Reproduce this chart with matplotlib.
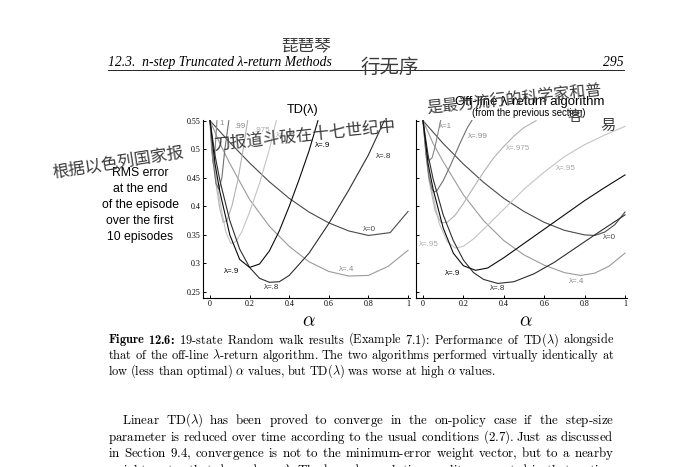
import matplotlib
matplotlib.use("Agg")
import matplotlib.pyplot as plt
from matplotlib.ticker import FixedLocator, FixedFormatter

plt.rcParams['mathtext.fontset'] = 'cm'

# ---------------- data ----------------
x_ticks = [0, 0.2, 0.4, 0.6, 0.8, 1.0]
x_tick_labels = ["0", "0.2", "0.4", "0.6", "0.8", "1"]
y_ticks = [0.25, 0.30, 0.35, 0.40, 0.45, 0.50, 0.55]
y_tick_labels = ["0.25", "0.3", "0.35", "0.4", "0.45", "0.5", "0.55"]

# TD(lambda)
td_a_0 = [0, 0.1, 0.2, 0.3, 0.4, 0.5, 0.6, 0.7, 0.8, 0.91, 1.0]
td_e_0 = [0.55, 0.512, 0.476, 0.443, 0.414, 0.39, 0.371, 0.357, 0.349, 0.354, 0.391]
td_a_4 = [0, 0.05, 0.1, 0.2, 0.3, 0.4, 0.5, 0.6, 0.7, 0.8, 0.9, 1.0]
td_e_4 = [0.55, 0.51, 0.475, 0.412, 0.365, 0.33, 0.303, 0.286, 0.278, 0.279, 0.295, 0.323]
td_a_8 = [0, 0.025, 0.05, 0.1, 0.15, 0.2, 0.25, 0.3, 0.35, 0.4, 0.5, 0.6, 0.7, 0.8, 0.88]
td_e_8 = [0.55, 0.49, 0.445, 0.375, 0.325, 0.293, 0.274, 0.267, 0.268, 0.279, 0.318, 0.37, 0.428, 0.49, 0.55]
td_a_9 = [0, 0.025, 0.05, 0.1, 0.15, 0.2, 0.25, 0.3, 0.35, 0.4, 0.45, 0.5, 0.545]
td_e_9 = [0.55, 0.475, 0.425, 0.35, 0.307, 0.293, 0.299, 0.322, 0.357, 0.4, 0.447, 0.497, 0.55]
td_a_95 = [0, 0.02, 0.04, 0.06, 0.08, 0.105, 0.13, 0.16, 0.2, 0.25, 0.3, 0.335]
td_e_95 = [0.55, 0.48, 0.43, 0.39, 0.355, 0.335, 0.338, 0.355, 0.39, 0.44, 0.5, 0.55]
td_a_975 = [0, 0.015, 0.03, 0.05, 0.067, 0.085, 0.11, 0.14, 0.17, 0.19]
td_e_975 = [0.55, 0.49, 0.44, 0.395, 0.372, 0.375, 0.4, 0.445, 0.505, 0.55]
td_a_99 = [0, 0.015, 0.03, 0.045, 0.06, 0.075, 0.095]
td_e_99 = [0.55, 0.48, 0.44, 0.43, 0.45, 0.5, 0.55]
td_a_1 = [0, 0.008, 0.016, 0.024, 0.035]
td_e_1 = [0.55, 0.5, 0.475, 0.49, 0.55]

# Off-line lambda-return algorithm
ol_a_0 = [0, 0.1, 0.2, 0.3, 0.4, 0.5, 0.6, 0.7, 0.8, 0.85, 0.9, 0.95, 1.0]
ol_e_0 = [0.55, 0.51, 0.474, 0.442, 0.414, 0.391, 0.372, 0.358, 0.35, 0.349, 0.355, 0.368, 0.39]
ol_a_4 = [0, 0.05, 0.1, 0.2, 0.3, 0.4, 0.5, 0.6, 0.7, 0.78, 0.85, 0.92, 1.0]
ol_e_4 = [0.55, 0.51, 0.478, 0.42, 0.375, 0.34, 0.315, 0.297, 0.284, 0.279, 0.283, 0.295, 0.318]
ol_a_8 = [0, 0.025, 0.05, 0.1, 0.15, 0.2, 0.25, 0.3, 0.37, 0.45, 0.55, 0.65, 0.75, 0.85, 1.0]
ol_e_8 = [0.55, 0.49, 0.448, 0.385, 0.34, 0.306, 0.284, 0.272, 0.265, 0.268, 0.282, 0.302, 0.326, 0.35, 0.385]
ol_a_9 = [0, 0.025, 0.05, 0.1, 0.15, 0.2, 0.26, 0.32, 0.4, 0.5, 0.6, 0.7, 0.8, 0.9, 1.0]
ol_e_9 = [0.55, 0.475, 0.43, 0.362, 0.318, 0.296, 0.288, 0.292, 0.31, 0.335, 0.36, 0.385, 0.41, 0.433, 0.455]
ol_a_95 = [0, 0.02, 0.04, 0.08, 0.12, 0.16, 0.2, 0.25, 0.3, 0.4, 0.5, 0.6, 0.7, 0.8, 0.9, 1.0]
ol_e_95 = [0.55, 0.48, 0.435, 0.37, 0.338, 0.327, 0.33, 0.343, 0.36, 0.395, 0.43, 0.46, 0.487, 0.508, 0.525, 0.54]
ol_a_975 = [0, 0.015, 0.03, 0.06, 0.09, 0.12, 0.16, 0.2, 0.25, 0.3, 0.35, 0.4, 0.45, 0.5, 0.56]
ol_e_975 = [0.55, 0.49, 0.445, 0.392, 0.371, 0.372, 0.385, 0.405, 0.433, 0.46, 0.485, 0.505, 0.523, 0.538, 0.55]
ol_a_99 = [0, 0.015, 0.03, 0.045, 0.055, 0.07, 0.1, 0.14, 0.18, 0.22, 0.25]
ol_e_99 = [0.55, 0.49, 0.45, 0.43, 0.425, 0.428, 0.445, 0.475, 0.508, 0.538, 0.555]
ol_a_1 = [0, 0.01, 0.02, 0.03, 0.045, 0.06, 0.075, 0.09]
ol_e_1 = [0.55, 0.515, 0.49, 0.48, 0.485, 0.505, 0.53, 0.555]

# curve labels: (text, alpha, error) in data coordinates
td_labels = [("1", 0.045, 0.545), (".99", 0.125, 0.54), (".975", 0.225, 0.532), ("λ=.95", 0.335, 0.524),
             ("λ=.9", 0.53, 0.507), ("λ=.8", 0.84, 0.488), ("λ=0", 0.77, 0.36), ("λ=.4", 0.65, 0.289),
             ("λ=.9", 0.07, 0.286), ("λ=.8", 0.27, 0.258)]
ol_labels = [("λ=1", 0.08, 0.539), ("λ=.99", 0.22, 0.523), ("λ=.975", 0.41, 0.502), ("λ=.95", 0.66, 0.467),
             ("λ=0", 0.89, 0.345), ("λ=.4", 0.72, 0.268), ("λ=.8", 0.33, 0.256), ("λ=.9", 0.11, 0.283),
             ("λ=.95", -0.02, 0.333)]

# ---------------- layout ----------------
W, H = 680, 467
fig = plt.figure(figsize=(6.8, 4.67), dpi=100)
renderer = fig.canvas.get_renderer()


def fx(px):
    return px / W


def fy(py):
    return 1 - py / H


def fit_width(t, target):
    w = t.get_window_extent(renderer).width
    t.set_fontsize(t.get_fontsize() * target / w)
    return t


col = {"0": "#4a4a4a", "4": "#9a9a9a", "8": "#2e2e2e", "9": "#0a0a0a",
       "95": "#c4c4c4", "975": "#b2b2b2", "99": "#707070", "1": "#858585"}
lab_col = {"λ=0": "#4a4a4a", "λ=.4": "#8a8a8a", "λ=.8": "#2e2e2e", "λ=.9": "#000000",
           "λ=.95": "#a8a8a8", ".975": "#a8a8a8", "λ=.975": "#a8a8a8", ".99": "#8a8a8a",
           "λ=.99": "#8a8a8a", "1": "#8a8a8a", "λ=1": "#8a8a8a"}

ax1 = fig.add_axes([fx(203), fy(298), fx(410) - fx(203), fy(120) - fy(298)])
ax2 = fig.add_axes([fx(416), fy(298), fx(627) - fx(416), fy(120) - fy(298)])

td_series = [(td_a_0, td_e_0, "0"), (td_a_4, td_e_4, "4"), (td_a_95, td_e_95, "95"),
             (td_a_975, td_e_975, "975"), (td_a_99, td_e_99, "99"), (td_a_1, td_e_1, "1"),
             (td_a_8, td_e_8, "8"), (td_a_9, td_e_9, "9")]
ol_series = [(ol_a_0, ol_e_0, "0"), (ol_a_4, ol_e_4, "4"), (ol_a_95, ol_e_95, "95"),
             (ol_a_975, ol_e_975, "975"), (ol_a_99, ol_e_99, "99"), (ol_a_1, ol_e_1, "1"),
             (ol_a_8, ol_e_8, "8"), (ol_a_9, ol_e_9, "9")]

for ax, series, labels, xlim in [(ax1, td_series, td_labels, (-0.0354, 1.0101)),
                                 (ax2, ol_series, ol_labels, (-0.0347, 1.0099))]:
    for a, e, k in series:
        ax.plot(a, e, color=col[k], lw=0.8, solid_joinstyle='round')
    for txt, a, e in labels:
        ax.text(a, e, txt, fontsize=5.8, family="Liberation Sans", color=lab_col[txt],
                ha="left", va="center")
    ax.set_xlim(*xlim)
    ax.set_ylim(0.2395, 0.5512)
    ax.spines["top"].set_visible(False)
    ax.spines["right"].set_visible(False)
    for s in ("left", "bottom"):
        ax.spines[s].set_linewidth(0.8)
    ax.xaxis.set_major_locator(FixedLocator(x_ticks))
    ax.xaxis.set_major_formatter(FixedFormatter(x_tick_labels))
    ax.yaxis.set_major_locator(FixedLocator(y_ticks))
    ax.yaxis.set_major_formatter(FixedFormatter(y_tick_labels))
    ax.tick_params(direction="in", length=2.5, width=0.7, pad=1.5, labelsize=5.8)
    for lbl in ax.get_xticklabels() + ax.get_yticklabels():
        lbl.set_family("Liberation Serif")
    ax.patch.set_alpha(0)
ax2.tick_params(labelleft=False)

# axis labels alpha
fig.text(fx(309), fy(321), r"$\alpha$", fontsize=14, ha="center", va="center")
fig.text(fx(526), fy(321), r"$\alpha$", fontsize=14, ha="center", va="center")

# titles
t = fig.text(fx(302.5), fy(110), "TD(λ)", family="Liberation Sans", fontsize=9, ha="center", va="center")
fit_width(t, 31.5)
t = fig.text(fx(530), fy(102), "Off-line λ-return algorithm", family="Liberation Sans", fontsize=9,
             ha="center", va="center")
fit_width(t, 149)
t = fig.text(fx(529), fy(113.5), "(from the previous section)", family="Liberation Sans", fontsize=6,
             ha="center", va="center")
fit_width(t, 116)

# y label
ylab_lines = ["RMS error", "at the end", "of the episode", "over the first", "10 episodes"]
ylab_texts = []
for i, s in enumerate(ylab_lines):
    ylab_texts.append(fig.text(fx(140), fy(172.7 + 16 * i), s, family="Liberation Sans", fontsize=9,
                               ha="center", va="center"))
ref_w = ylab_texts[2].get_window_extent(renderer).width
for tt in ylab_texts:
    tt.set_fontsize(9 * 77.3 / ref_w)

# running header
hdr = fig.text(fx(108), fy(66), "12.3.  n-step Truncated λ-return Methods", family="Liberation Serif",
               style="italic", fontsize=9, ha="left", va="baseline")
fit_width(hdr, 224)
fig.text(fx(624), fy(66), "295", family="Liberation Serif", style="italic", fontsize=hdr.get_fontsize(),
         ha="right", va="baseline")
fig.add_artist(plt.Line2D([fx(108), fx(624)], [fy(70), fy(70)], color="black", lw=0.6))


# ---------------- justified text ----------------
EMPTY = r"$\hspace{0}$"


def as_math(w):
    # force the mathtext layout engine so that measured widths equal drawn widths
    return w if "$" in w else w + EMPTY


def pad_of(fam, size):
    t = fig.text(0, 0, EMPTY, family=fam, fontsize=size)
    p = t.get_window_extent(renderer).width
    t.remove()
    return p


def adv(o):
    return o.get_window_extent(renderer).width - pad_of(o.get_family(), o.get_fontsize())


def text_block(lines, x0, x1, baselines, ref_line, first_indent=0, last_justified=False,
               bold_prefix=None, shrink=0.99):
    rows = []
    for li, line in enumerate(lines):
        words = []
        rest = line
        if li == 0 and bold_prefix:
            for bw in bold_prefix.split(" "):
                words.append((bw, "cmb10"))
            rest = line[len(bold_prefix):].strip()
        for w in rest.split(" "):
            words.append((w, "cmr10"))
        rows.append(words)
    objs = []
    for li, words in enumerate(rows):
        row = []
        for w, fam in words:
            row.append(fig.text(0, fy(baselines[li]), as_math(w), family=fam, fontsize=10,
                                ha="left", va="baseline"))
        objs.append(row)
    sp10 = 0.333 * 10 * 100 / 72
    ref = objs[ref_line]
    nat = sum(adv(o) for o in ref) + sp10 * (len(ref) - 1)
    target = x1 - x0 - (first_indent if ref_line == 0 else 0)
    fs = 10 * target / nat * shrink
    sp = 0.333 * fs * 100 / 72
    for row in objs:
        for o in row:
            o.set_fontsize(fs)
    for li, row in enumerate(objs):
        widths = [adv(o) for o in row]
        start = x0 + (first_indent if li == 0 else 0)
        if li == len(objs) - 1 and not last_justified:
            gap = sp
        else:
            gap = (x1 - start - sum(widths)) / max(len(row) - 1, 1)
        x = start
        for o, w in zip(row, widths):
            o.set_x(fx(x))
            x += w + gap
    return fs


caption = [
    r"Figure 12.6: 19-state Random walk results (Example 7.1): Performance of TD($\lambda$) alongside",
    r"that of the off-line $\lambda$-return algorithm. The two algorithms performed virtually identically at",
    r"low (less than optimal) $\alpha$ values, but TD($\lambda$) was worse at high $\alpha$ values.",
]
text_block(caption, 108, 612, [343.5, 359.3, 375], 1, bold_prefix="Figure 12.6:")

body = [
    r"Linear TD($\lambda$) has been proved to converge in the on-policy case if the step-size",
    r"parameter is reduced over time according to the usual conditions (2.7). Just as discussed",
    r"in Section 9.4, convergence is not to the minimum-error weight vector, but to a nearby",
    r"weight vector that depends on $\lambda$. The bound on solution quality presented in that section",
]
text_block(body, 108, 612, [424, 440.7, 457.3, 474], 1, first_indent=14, last_justified=True)

# ---------------- handwritten annotations ----------------
hw = dict(family=["Noto Sans CJK SC", "DejaVu Sans"], color="#3c3c3c", ha="center", va="center",
          weight="light")
fig.text(fx(306), fy(46), "琵琶琴", fontsize=12, **hw)
fig.text(fx(390), fy(67), "行无序", fontsize=14, **hw)
fig.text(fx(118), fy(162), "根据以色列国家报", fontsize=12, rotation=9, **hw)
fig.text(fx(305), fy(136), "刀报道斗破在十七世纪中", fontsize=12, rotation=6, **hw)
fig.text(fx(514), fy(100), "是最为流行的科学家和普", fontsize=11.5, rotation=6, **hw)
fig.text(fx(575), fy(117), "客", fontsize=11, **hw)
fig.text(fx(608), fy(125), "易", fontsize=11, **hw)

fig.savefig("out.png", dpi=100)
